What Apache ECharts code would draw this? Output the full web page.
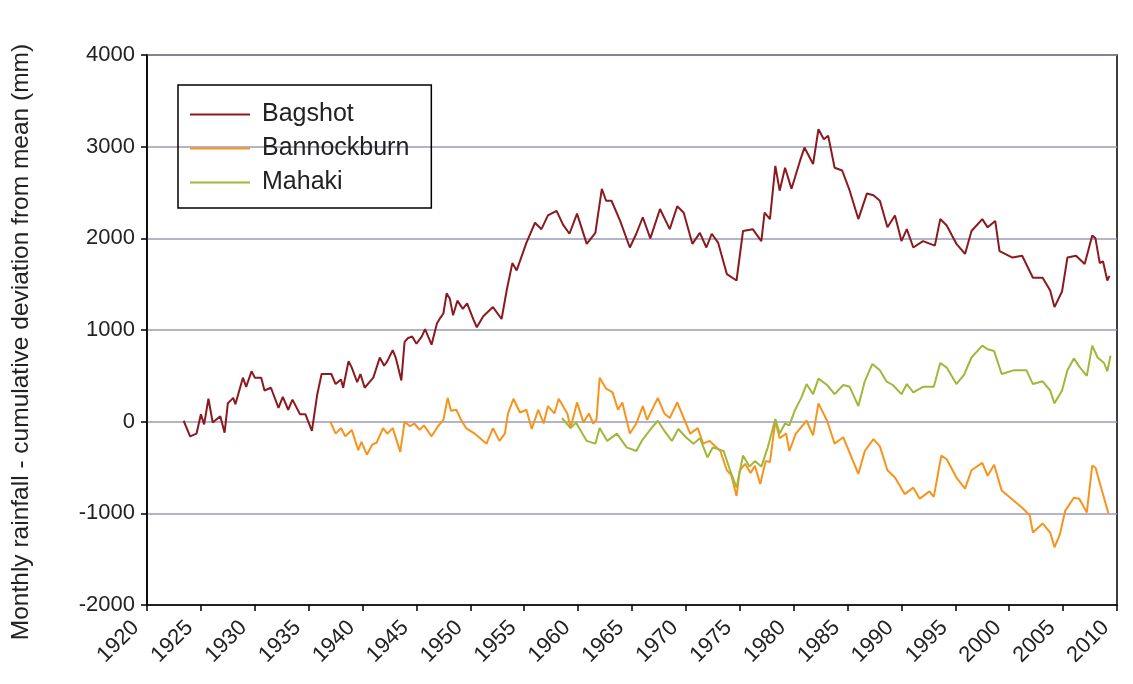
<!DOCTYPE html>
<html>
<head>
<meta charset="utf-8">
<script src="https://cdn.jsdelivr.net/npm/echarts@6/dist/echarts.min.js"></script>
<style>
html,body{margin:0;padding:0;background:#fff;}
#chart{width:1133px;height:684px;}
</style>
</head>
<body>
<div id="chart"></div>
<script>
const seriesNames = ['Bagshot', 'Bannockburn', 'Mahaki'];
const yTicks = [-2000, -1000, 0, 1000, 2000, 3000, 4000];
const xTicks = [1920,1925,1930,1935,1940,1945,1950,1955,1960,1965,1970,1975,1980,1985,1990,1995,2000,2005,2010];

const bagshot = [
[1923.4,10],[1924.0,-160],[1924.6,-130],[1925.0,80],[1925.3,-30],[1925.7,250],[1926.1,-10],[1926.8,60],
[1927.2,-120],[1927.5,200],[1928.0,260],[1928.2,190],[1928.9,480],[1929.2,380],[1929.7,550],[1930.0,480],
[1930.6,480],[1930.9,340],[1931.5,370],[1932.2,150],[1932.6,270],[1933.1,130],[1933.5,240],[1934.2,80],
[1934.7,80],[1935.3,-100],[1935.8,300],[1936.2,520],[1937.1,520],[1937.5,410],[1938.0,460],[1938.2,370],
[1938.7,660],[1939.0,590],[1939.5,430],[1939.8,520],[1940.2,370],[1940.7,440],[1941.0,480],[1941.6,700],
[1942.0,610],[1942.3,660],[1942.8,780],[1943.1,690],[1943.6,450],[1943.9,870],[1944.2,910],[1944.6,930],
[1945.0,850],[1945.5,930],[1945.8,1010],[1946.4,840],[1946.9,1070],[1947.2,1130],[1947.5,1180],[1947.8,1400],
[1948.1,1340],[1948.4,1160],[1948.8,1320],[1949.3,1230],[1949.7,1290],[1950.3,1110],[1950.6,1030],[1951.2,1150],
[1952.1,1250],[1952.9,1120],[1953.4,1450],[1953.9,1730],[1954.3,1650],[1955.2,1950],[1956.0,2170],[1956.6,2100],
[1957.2,2250],[1958.0,2300],[1958.6,2150],[1959.2,2050],[1959.9,2270],[1960.8,1940],[1961.6,2060],[1962.2,2540],
[1962.6,2410],[1963.1,2410],[1963.9,2190],[1964.8,1900],[1965.4,2050],[1966.0,2230],[1966.7,2000],[1967.6,2320],
[1968.5,2100],[1969.2,2350],[1969.8,2280],[1970.6,1940],[1971.3,2060],[1971.9,1900],[1972.4,2050],[1973.0,1950],
[1973.8,1610],[1974.7,1540],[1975.3,2080],[1976.2,2100],[1977.0,1970],[1977.3,2280],[1977.8,2210],[1978.3,2790],
[1978.7,2520],[1979.2,2770],[1979.8,2540],[1980.6,2850],[1981.0,2990],[1981.8,2810],[1982.3,3190],[1982.8,3080],
[1983.2,3120],[1983.8,2770],[1984.5,2740],[1985.2,2520],[1986.0,2210],[1986.8,2490],[1987.4,2470],[1988.0,2410],
[1988.7,2120],[1989.4,2250],[1990.0,1970],[1990.5,2100],[1991.1,1900],[1992.0,1970],[1993.1,1920],[1993.6,2210],
[1994.2,2140],[1995.1,1940],[1995.9,1830],[1996.5,2080],[1997.5,2210],[1998.0,2120],[1998.7,2190],[1999.1,1860],
[2000.3,1790],[2001.2,1810],[2002.2,1570],[2003.1,1570],[2003.8,1430],[2004.2,1250],[2004.9,1420],[2005.4,1790],
[2006.2,1810],[2007.0,1720],[2007.7,2030],[2008.0,2000],[2008.4,1730],[2008.7,1750],[2009.1,1540],[2009.3,1590]
];

const bannockburn = [
[1937.0,0],[1937.5,-130],[1938.0,-70],[1938.4,-160],[1939.0,-90],[1939.6,-310],[1939.9,-220],[1940.4,-360],
[1940.9,-250],[1941.3,-230],[1941.9,-70],[1942.3,-130],[1942.8,-70],[1943.5,-330],[1943.9,0],[1944.4,-50],
[1944.8,-20],[1945.3,-90],[1945.7,-40],[1946.4,-160],[1947.0,-50],[1947.5,20],[1947.9,260],[1948.2,120],
[1948.7,130],[1949.1,30],[1949.6,-70],[1950.4,-130],[1951.5,-240],[1952.1,-70],[1952.7,-210],[1953.2,-130],
[1953.5,90],[1954.0,250],[1954.6,100],[1955.2,130],[1955.7,-80],[1956.3,130],[1956.8,-20],[1957.2,170],
[1957.8,90],[1958.2,250],[1959.0,90],[1959.3,-70],[1959.9,210],[1960.5,-10],[1961.0,90],[1961.4,-20],
[1961.7,20],[1962.0,480],[1962.6,360],[1963.2,320],[1963.7,130],[1964.1,210],[1964.8,-130],[1965.4,-20],
[1966.0,170],[1966.4,20],[1967.4,260],[1968.0,90],[1968.5,40],[1969.2,210],[1969.8,40],[1970.4,-130],
[1971.1,-70],[1971.6,-240],[1972.2,-210],[1973.2,-320],[1973.8,-530],[1974.2,-580],[1974.7,-810],[1975.0,-530],
[1975.5,-460],[1976.0,-560],[1976.4,-480],[1976.9,-680],[1977.4,-430],[1977.8,-440],[1978.3,10],[1978.7,-180],
[1979.3,-130],[1979.6,-320],[1980.2,-130],[1981.2,10],[1981.8,-150],[1982.3,200],[1983.1,10],[1983.8,-240],
[1984.6,-170],[1986.0,-570],[1986.6,-320],[1987.4,-190],[1988.0,-270],[1988.7,-530],[1989.4,-610],[1990.3,-790],
[1991.1,-720],[1991.7,-840],[1992.6,-760],[1993.0,-820],[1993.7,-370],[1994.2,-410],[1995.1,-610],[1995.9,-730],
[1996.5,-530],[1997.5,-450],[1998.0,-590],[1998.6,-470],[1999.3,-750],[2000.4,-860],[2001.2,-940],[2001.9,-1020],
[2002.2,-1210],[2003.1,-1110],[2003.8,-1210],[2004.2,-1370],[2004.7,-1230],[2005.2,-970],[2006.0,-830],[2006.5,-840],
[2007.2,-990],[2007.7,-480],[2008.0,-500],[2008.6,-750],[2009.2,-1000]
];

const mahaki = [
[1958.5,40],[1959.3,-70],[1959.8,-10],[1960.8,-210],[1961.6,-240],[1962.0,-70],[1962.7,-210],[1963.6,-130],
[1964.5,-280],[1965.4,-320],[1965.9,-210],[1966.8,-70],[1967.4,10],[1968.0,-100],[1968.7,-210],[1969.3,-80],
[1970.0,-170],[1970.7,-240],[1971.3,-180],[1972.0,-390],[1972.5,-280],[1973.5,-320],[1974.1,-530],[1974.7,-720],
[1975.3,-370],[1975.9,-490],[1976.4,-430],[1977.0,-490],[1977.6,-280],[1978.3,30],[1978.7,-130],[1979.2,-20],
[1979.6,-40],[1980.1,120],[1980.7,260],[1981.2,410],[1981.8,300],[1982.3,470],[1983.1,400],[1983.8,300],
[1984.6,400],[1985.2,380],[1986.0,170],[1986.6,440],[1987.3,630],[1988.0,560],[1988.6,440],[1989.2,400],
[1990.0,300],[1990.5,410],[1991.1,320],[1992.0,380],[1993.0,380],[1993.6,640],[1994.2,590],[1995.1,410],
[1995.8,510],[1996.5,700],[1997.5,830],[1998.0,790],[1998.6,770],[1999.3,520],[2000.4,560],[2001.6,560],
[2002.2,410],[2003.1,440],[2003.8,340],[2004.2,200],[2004.9,340],[2005.4,560],[2006.0,690],[2006.5,600],
[2007.2,500],[2007.7,830],[2008.2,700],[2008.8,640],[2009.1,550],[2009.4,720]
];

const colors = ['#8b1a1f', '#f7941d', '#9fb83a'];
const font = 'Liberation Sans, Arial, sans-serif';

const chart = echarts.init(document.getElementById('chart'), null, {renderer: 'canvas'});
const mk = (name, data, color) => ({
  name, type: 'line', data, showSymbol: false, symbol: 'none',
  lineStyle: {color, width: 2}, itemStyle: {color}, animation: false
});
chart.setOption({
  animation: false,
  backgroundColor: '#fff',
  grid: {left: 147, right: 16, top: 55, bottom: 79, show: true, borderColor: '#000', borderWidth: 1.5, backgroundColor: 'transparent'},
  legend: {
    orient: 'vertical', left: 178, top: 85,
    padding: [17, 22, 13, 12], itemGap: 9,
    itemWidth: 60, itemHeight: 2,
    borderColor: '#000', borderWidth: 1.5,
    icon: 'rect',
    textStyle: {fontFamily: font, fontSize: 25, color: '#222', padding: [0, 0, 0, 7]},
    data: seriesNames
  },
  xAxis: {
    type: 'value', min: xTicks[0], max: xTicks[xTicks.length - 1], interval: 5,
    axisLine: {onZero: false, lineStyle: {color: '#000', width: 1.5}},
    axisTick: {show: true, length: 6, lineStyle: {color: '#000', width: 1.5}},
    axisLabel: {rotate: 45, fontFamily: font, fontSize: 22, color: '#222', margin: 8, padding: [0, 16, 0, 0], formatter: v => String(v)},
    splitLine: {show: false}
  },
  yAxis: {
    type: 'value', min: yTicks[0], max: yTicks[yTicks.length - 1], interval: 1000,
    name: 'Monthly rainfall - cumulative deviation from mean (mm)',
    nameLocation: 'middle', nameGap: 113, nameRotate: 90,
    nameTextStyle: {fontFamily: font, fontSize: 24.5, color: '#222', padding: [0, 24, 0, 0]},
    axisLine: {lineStyle: {color: '#000', width: 1.5}},
    axisTick: {show: true, inside: false, length: 6, lineStyle: {color: '#000', width: 1.5}},
    axisLabel: {fontFamily: font, fontSize: 22, color: '#222', margin: 12, formatter: v => String(v)},
    splitLine: {show: true, lineStyle: {color: '#9a9ab8', width: 1.5}}
  },
  series: [mk(seriesNames[0], bagshot, colors[0]), mk(seriesNames[1], bannockburn, colors[1]), mk(seriesNames[2], mahaki, colors[2])]
});
</script>
</body>
</html>
